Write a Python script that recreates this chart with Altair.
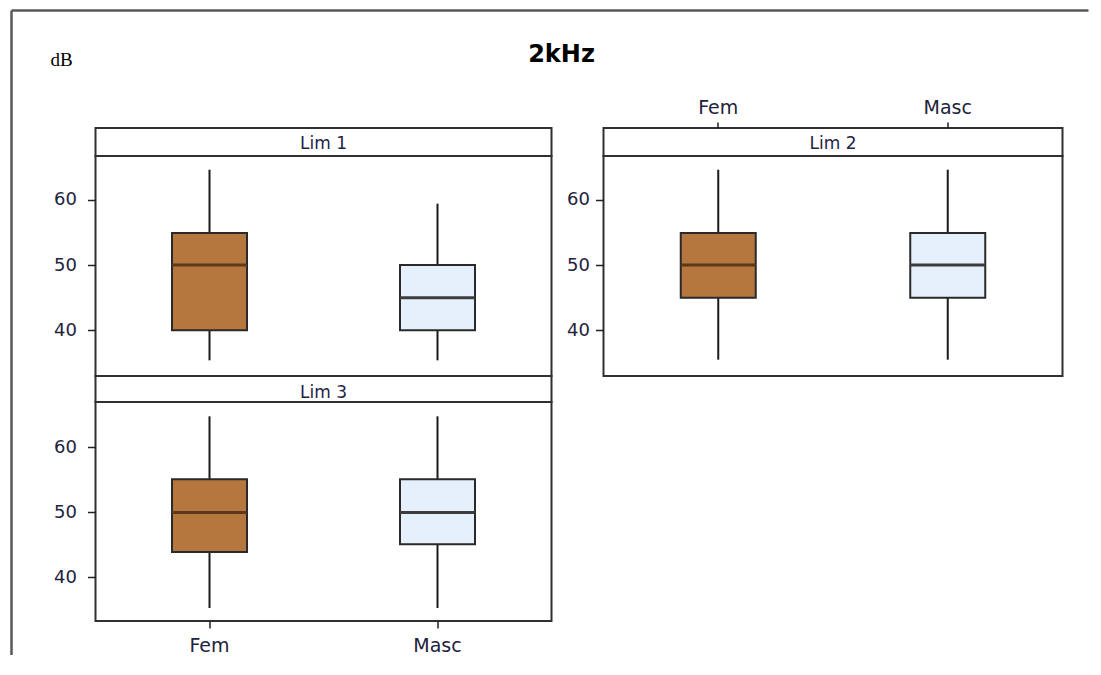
import altair as alt
import pandas as pd

# ---- data ----
lim_labels = ["Lim 1", "Lim 2", "Lim 3"]
sex_labels = ["Fem", "Masc"]

row_lim = ["Lim 1", "Lim 1", "Lim 2", "Lim 2", "Lim 3", "Lim 3"]
row_sex = ["Fem", "Masc", "Fem", "Masc", "Fem", "Masc"]
whisker_low = [35.4, 35.4, 35.5, 35.5, 35.3, 35.3]
quart_1 = [40.0, 40.0, 45.0, 45.0, 43.9, 45.1]
medians = [50.0, 45.0, 50.0, 50.0, 50.0, 50.0]
quart_3 = [54.9, 50.0, 54.9, 54.9, 55.1, 55.1]
whisker_high = [64.6, 59.4, 64.6, 64.6, 64.8, 64.8]

y_tick_values = [40, 50, 60]
title_text = "2kHz"
unit_text = "dB"

box_fill = ["#b5773d", "#e6f0fd"]
median_color = ["#5b3a1c", "#3c3c3c"]

df = pd.DataFrame({
    "lim": row_lim, "sexo": row_sex, "lo": whisker_low, "q1": quart_1,
    "med": medians, "q3": quart_3, "hi": whisker_high,
})
frame_df = pd.DataFrame({"k": [0]})

LABEL_COLOR = "#22223c"
FONT = "DejaVu Sans"


def y_axis(pad):
    return alt.Axis(values=y_tick_values, tickSize=8, tickWidth=1.5, tickColor="#222222",
                    labelPadding=pad, labelFont=FONT, labelFontSize=18, labelColor=LABEL_COLOR,
                    domain=False, grid=False, title=None)


def panel(lim, width, height, domain, xaxis, ypad):
    base = alt.Chart(df).transform_filter(alt.datum.lim == lim)
    xs = alt.Scale(type="band", domain=sex_labels, paddingInner=0, paddingOuter=0)
    ys = alt.Scale(domain=domain, nice=False, zero=False)
    x_main = alt.X("sexo:N", scale=xs, axis=xaxis, title=None)
    whisk = base.mark_rule(color="#1a1a1a", strokeWidth=2).encode(
        y=alt.Y("lo:Q", scale=ys, axis=y_axis(ypad)),
        y2="hi:Q",
    )
    box = base.mark_bar(width=75, stroke="#2a2a2a", strokeWidth=2).encode(
        y=alt.Y("q1:Q", scale=ys, axis=y_axis(ypad)),
        y2="q3:Q",
        fill=alt.Fill("sexo:N", scale=alt.Scale(domain=sex_labels, range=box_fill), legend=None),
    )
    med = base.mark_tick(size=75, thickness=3, opacity=1).encode(
        y=alt.Y("med:Q", scale=ys, axis=y_axis(ypad)),
        color=alt.Color("sexo:N", scale=alt.Scale(domain=sex_labels, range=median_color), legend=None),
    )
    return alt.layer(whisk, box, med).encode(x=x_main).properties(width=width, height=height)


def strip(lim, width, height, baseline_y):
    return alt.Chart(pd.DataFrame({"lim": [lim]})).mark_text(
        font=FONT, fontSize=17, color="#1e1e46", baseline="alphabetic", align="center"
    ).encode(text=alt.Text("lim:N"), x=alt.value(width / 2), y=alt.value(baseline_y))


# decorations drawn relative to the first strip (outer frame, unit, title)
top_line = alt.Chart(frame_df).mark_rule(color="#585858", strokeWidth=2.5).encode(
    x=alt.value(-84), x2=alt.value(993), y=alt.value(-117.5))
left_line = alt.Chart(frame_df).mark_rule(color="#585858", strokeWidth=2.5).encode(
    x=alt.value(-84), y=alt.value(-117.5), y2=alt.value(527))
unit_lbl = alt.Chart(frame_df).mark_text(
    text=unit_text, font="Liberation Serif", fontSize=19, align="left", baseline="alphabetic",
    color="black").encode(x=alt.value(-45), y=alt.value(-62))
title_lbl = alt.Chart(frame_df).mark_text(
    text=title_text, font=FONT, fontWeight="bold", fontSize=24, align="center",
    baseline="alphabetic", color="black").encode(x=alt.value(466), y=alt.value(-66))

strip1 = alt.layer(strip(lim_labels[0], 456, 28, 21), top_line, left_line, unit_lbl, title_lbl
                   ).properties(width=456, height=28)
strip2 = strip(lim_labels[1], 459, 28, 21).properties(width=459, height=28)
strip3 = strip(lim_labels[2], 456, 26, 22).properties(width=456, height=26)

top_xaxis = alt.Axis(orient="top", offset=28, tickSize=6, tickWidth=1.5, tickColor="#222222",
                     labelPadding=5, labelFont=FONT, labelFontSize=19, labelColor=LABEL_COLOR,
                     labelAngle=0, domain=False, grid=False)
bottom_xaxis = alt.Axis(orient="bottom", tickSize=7, tickWidth=1.5, tickColor="#222222",
                        labelPadding=8, labelFont=FONT, labelFontSize=19, labelColor=LABEL_COLOR,
                        labelAngle=0, domain=False, grid=False)

plot1 = panel(lim_labels[0], 456, 220, [33.0, 66.7], None, 11)
plot2 = panel(lim_labels[1], 459, 220, [33.0, 66.7], top_xaxis, 6)
plot3 = panel(lim_labels[2], 456, 219, [33.3, 67.0], bottom_xaxis, 11)

filler = alt.Chart(frame_df).mark_point(opacity=0).encode(
    x=alt.value(0), y=alt.value(0)
).properties(width=1, height=1, view=alt.ViewBackground(stroke="transparent", fill="transparent"))

chart = alt.ConcatChart(
    concat=[strip1, strip2, plot1, plot2, strip3, filler, plot3],
    columns=2,
    spacing=alt.RowColnumber(row=0, column=52),
    bounds="flush",
    align="each",
).properties(
    padding={"left": 0.5, "top": 0, "right": 0, "bottom": 0},
    background="white",
).configure_view(
    stroke="#303030", strokeWidth=2, fill="white"
)

chart.save("out.html", embed_options={"renderer": "svg", "actions": False})
